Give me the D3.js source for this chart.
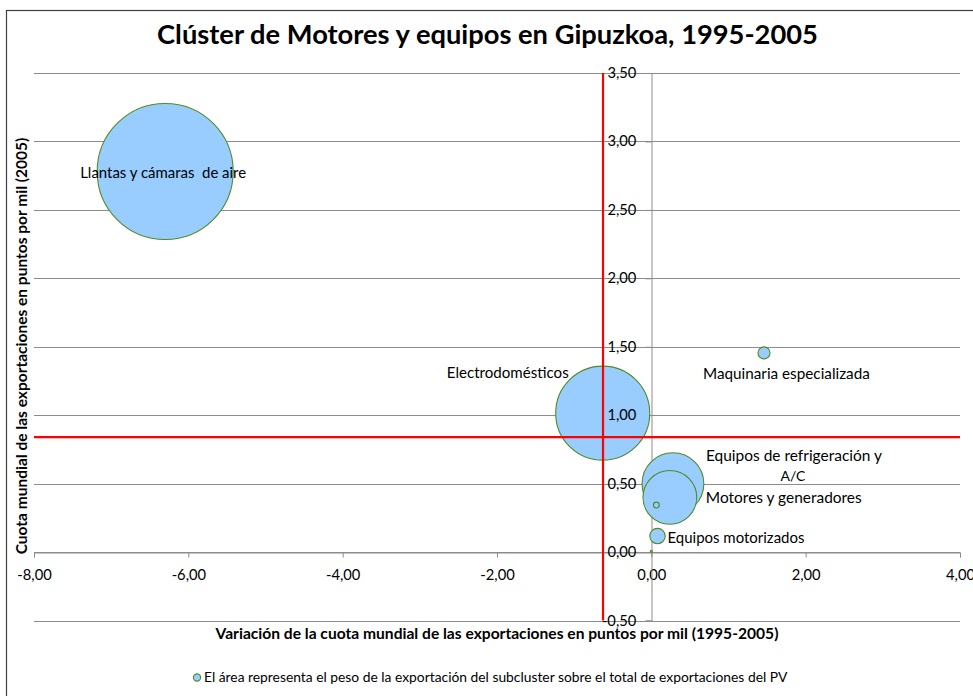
<!DOCTYPE html>
<html><head><meta charset="utf-8">
<script src="https://cdn.jsdelivr.net/npm/d3@7"></script>
<style>
html,body{margin:0;padding:0;background:#fff;}
svg text{font-family:Lato,"Open Sans",sans-serif;}
</style>
</head><body>
<svg id="chart" width="973" height="696"></svg>
<script>
// ---- data ----
const names = ["Llantas y cámaras  de aire","Electrodomésticos","Maquinaria especializada","Equipos de refrigeración y A/C","Motores y generadores","(sin etiqueta)","Equipos motorizados","(sin etiqueta 2)"];
const xValues = [-6.30, -0.63, 1.46, 0.28, 0.24, 0.065, 0.08, 0.00];
const yValues = [2.78, 1.015, 1.455, 0.50, 0.40, 0.343, 0.117, 0.005];
const weights = [32.0, 15.3, 0.25, 6.6, 5.0, 0.06, 0.41, 0.007];
const xTicks = [-8, -6, -4, -2, 0, 2, 4];
const yTicks = [-0.5, 0, 0.5, 1, 1.5, 2, 2.5, 3, 3.5];
const refX = -0.626;   // red vertical reference
const refY = 0.84;     // red horizontal reference
const title = "Clúster de Motores y equipos en Gipuzkoa, 1995-2005";
const xTitle = "Variación de la cuota mundial de las exportaciones en puntos por mil (1995-2005)";
const yTitle = "Cuota mundial de las exportaciones en puntos por mil (2005)";
const legendText = "El área representa el peso de la exportación del subcluster sobre el total de exportaciones del PV";

// ---- setup ----
const svg = d3.select("#chart");
const loc = d3.formatLocale({decimal:",", thousands:".", grouping:[3], currency:["","€"], minus:"-"});
const fmt = loc.format(".2f");

const x = d3.scaleLinear().domain([-8, 4]).range([34, 960]);
const y = d3.scaleLinear().domain([-0.5, 3.5]).range([620.5, 73]);
const r = d3.scaleSqrt().domain([0, 32]).range([0, 68]);

const gridColor = "#8c8c8c";

// chart border
svg.append("rect").attr("x",6.5).attr("y",10.5).attr("width",980).attr("height",700)
  .attr("fill","none").attr("stroke","#404040").attr("stroke-width",1.2);

function fitText(sel, target){
  const n = sel.node();
  const fs = parseFloat(sel.attr("font-size"));
  const w = n.getComputedTextLength();
  if (w>0) sel.attr("font-size", (fs*target/w).toFixed(2));
  return sel;
}

// title
const t = svg.append("text").attr("x", 487.5).attr("y", 44).attr("text-anchor","middle")
  .attr("font-size",26).attr("font-weight","bold").attr("fill","#000").text(title);
fitText(t, 661);

// tick font size measured so "3,50" is ~29px wide
const probe = svg.append("text").attr("font-size",14).text("3,50");
const tickFs = 14*29/probe.node().getComputedTextLength();
probe.remove();

// gridlines
svg.append("g").selectAll("line").data(yTicks).join("line")
  .attr("x1", x(-8)).attr("x2", x(4))
  .attr("y1", d=>Math.round(y(d))+0.5).attr("y2", d=>Math.round(y(d))+0.5)
  .attr("stroke", gridColor).attr("stroke-width",1);

// x axis at y=0
const xAxis = d3.axisBottom(x).tickValues(xTicks).tickFormat(fmt).tickSize(5).tickPadding(12);
const gx = svg.append("g").attr("transform",`translate(0,${Math.round(y(0))+0.5})`).call(xAxis);
gx.select(".domain").attr("stroke", gridColor);
gx.selectAll(".tick line").attr("stroke", gridColor);
gx.selectAll(".tick text").attr("font-size",tickFs).attr("fill","#000").attr("font-family","Lato,sans-serif");

// y axis at x=0
const yAxis = d3.axisLeft(y).tickValues(yTicks).tickFormat(fmt).tickSize(6).tickPadding(-1);
const gy = svg.append("g").attr("transform",`translate(${Math.round(x(0))+0.5},0)`).call(yAxis);
gy.select(".domain").attr("stroke", gridColor);
gy.selectAll(".tick line").attr("stroke", gridColor);
gy.selectAll(".tick text").remove();

// bubbles
const data = names.map((n,i)=>({name:n, x:xValues[i], y:yValues[i], w:weights[i]}));
svg.append("g").selectAll("circle").data(data).join("circle")
  .attr("cx", d=>x(d.x)).attr("cy", d=>y(d.y)).attr("r", d=>Math.max(r(d.w),0.8))
  .attr("fill","#99CCFF").attr("stroke","#4F8C23").attr("stroke-width",1.1);

// y tick labels drawn over bubbles
svg.append("g").selectAll("text").data(yTicks).join("text")
  .attr("x", x(0)-15).attr("y", d=>y(d)+5).attr("text-anchor","end")
  .attr("font-size",tickFs).attr("fill","#000").text(d=>fmt(d));

// red reference lines
svg.append("line").attr("x1", x(refX)).attr("x2", x(refX)).attr("y1", y(3.5)).attr("y2", y(-0.5))
  .attr("stroke","#FF0000").attr("stroke-width",2.2);
svg.append("line").attr("x1", x(-8)).attr("x2", x(4)).attr("y1", y(refY)).attr("y2", y(refY))
  .attr("stroke","#FF0000").attr("stroke-width",2.2);

// data labels
const lab = svg.append("g").attr("fill","#000");
function label(txt, xx, yy, anchor, width){
  const s = lab.append("text").attr("x", xx).attr("y", yy).attr("text-anchor", anchor)
    .attr("font-size",15).attr("xml:space","preserve").style("white-space","pre").text(txt);
  return fitText(s, width);
}
const d0 = data[0], d1 = data[1], d2 = data[2], d3_ = data[3], d4 = data[4], d6 = data[6];
label(d0.name, x(d0.x)-2, y(d0.y)+6, "middle", 166);
label(d1.name, x(d1.x)-34, y(d1.y)-35, "end", 122);
label(d2.name, x(d2.x)-61, y(d2.y)+26, "start", 167);
label("Equipos de refrigeración y", x(d3_.x)+33, y(d3_.y)-23, "start", 176);
label("A/C", x(d3_.x)+120, y(d3_.y)-3, "middle", 25);
label(d4.name, x(d4.x)+36, y(d4.y)+6, "start", 156);
label(d6.name, x(d6.x)+10, y(d6.y)+7, "start", 137);

// axis titles
const xt = svg.append("text").attr("x", 497).attr("y", 639).attr("text-anchor","middle")
  .attr("font-size",13).attr("font-weight","bold").attr("fill","#000").text(xTitle);
fitText(xt, 563);
const yt = svg.append("text").attr("transform","translate(27,346) rotate(-90)").attr("text-anchor","middle")
  .attr("font-size",13).attr("font-weight","bold").attr("fill","#000").text(yTitle);
fitText(yt, 417);

// legend
svg.append("circle").attr("cx",197).attr("cy",677.5).attr("r",3.6)
  .attr("fill","#99CCFF").attr("stroke","#4F8C23").attr("stroke-width",1.1);
const lt = svg.append("text").attr("x",204).attr("y",681.5).attr("font-size",12).attr("fill","#000").text(legendText);
fitText(lt, 584);
</script>
</body></html>
